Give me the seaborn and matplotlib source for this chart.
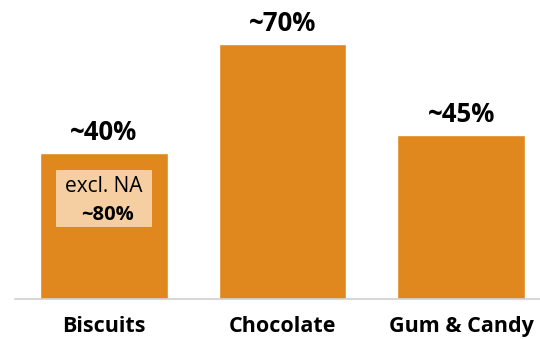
import matplotlib
matplotlib.use("Agg")
import matplotlib.pyplot as plt
import seaborn as sns
import pandas as pd
from matplotlib.patches import Rectangle

categories = ["Biscuits", "Chocolate", "Gum & Candy"]
values = [40, 70, 45]
value_labels = ["~40%", "~70%", "~45%"]
note_line1 = "excl. NA"
note_line2 = "~80%"

sns.set_theme(style="white")
plt.rcParams["font.family"] = ["Open Sans", "DejaVu Sans"]

df = pd.DataFrame({"category": categories, "value": values})

fig = plt.figure(figsize=(5.4, 3.39), dpi=100)
ax = fig.add_axes([15 / 540, 40 / 339, 1 - 15 / 540, 299 / 339])

sns.barplot(data=df, x="category", y="value", color="#E0881D", saturation=1,
            width=0.715, ax=ax)

ax.set_xlim(-0.495, 2.439)
ax.set_ylim(0, 82.1)

for s in ["top", "right", "left"]:
    ax.spines[s].set_visible(False)
ax.spines["bottom"].set_color("#d0d0d0")
ax.spines["bottom"].set_linewidth(1.2)
ax.set_yticks([])
ax.set_xlabel("")
ax.set_ylabel("")
ax.tick_params(axis="x", length=0, pad=12.5)
for lab in ax.get_xticklabels():
    lab.set_fontsize(15.5)
    lab.set_fontweight("bold")
    lab.set_color("black")

for i, (v, t) in enumerate(zip(values, value_labels)):
    ax.annotate(t, xy=(i, v), xytext=(0, 9.4), textcoords="offset points",
                ha="center", va="baseline", fontsize=18.5, fontweight="bold",
                color="black")

# note box inside first bar
ax.add_patch(Rectangle((-0.265, 19.8), 0.536, 15.6, facecolor="#F5CFA2",
                       edgecolor="none", zorder=3))
ax.text(0.0, 29.4, note_line1, ha="center", va="baseline", fontsize=15,
        color="black", zorder=4)
ax.text(0.02, 21.7, note_line2, ha="center", va="baseline", fontsize=14.5,
        fontweight="bold", color="black", zorder=4)

fig.savefig("out.png", dpi=100)
